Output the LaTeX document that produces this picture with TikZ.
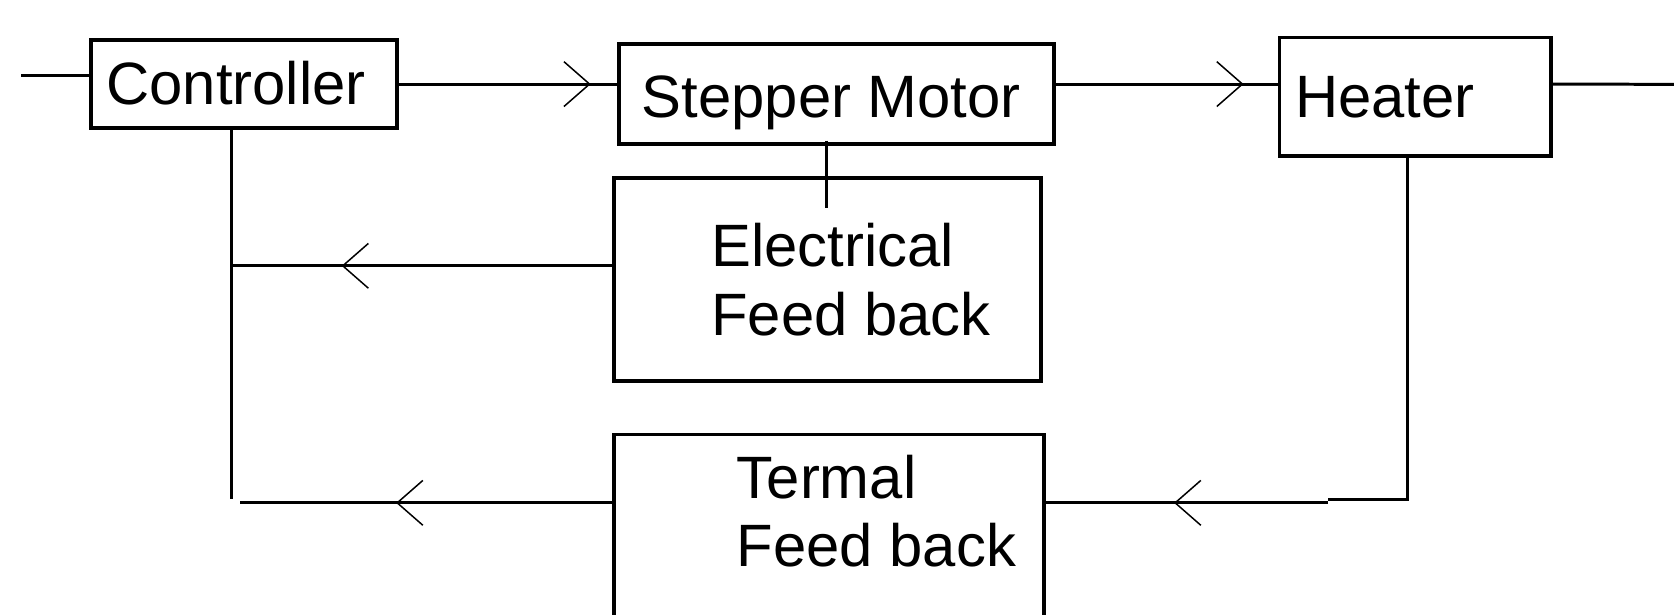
\documentclass[tikz,border=0pt]{standalone}
\usepackage{fontspec}
\setmainfont{Liberation Sans}
\usetikzlibrary{arrows.meta,decorations.markings}

\begin{document}
\begin{tikzpicture}[
  x=1pt, y=-1pt,
  font=\fontsize{56}{64}\selectfont,
  blk/.style ={draw=black, line width=3.4pt, inner sep=0pt},
  lbl/.style ={inner sep=0pt, align=left, anchor=base west},
  wire/.style={draw=black, line width=2.8pt},
  chev/.tip={Straight Barb[length=24pt, width=42pt, line width=1.4pt]},
  midarrow/.style={postaction={decorate, decoration={markings,
      mark=at position #1 with {\arrow{chev}}}}},
]
  \useasboundingbox (0,0) rectangle (1568,576);
  \clip (0,0) rectangle (1568,576);

  % --- bloques ---
  \node[blk, minimum width=287pt, minimum height=82.5pt] (ctrl)  at (228.5,78.75) {};
  \node[blk, minimum width=407pt, minimum height=94pt]   (step)  at (783.5,88) {};
  \node[blk, minimum width=254.5pt, minimum height=111pt] (heat) at (1325.75,90.5) {};
  \node[blk, minimum width=400pt, minimum height=190pt]  (elec)  at (775,262) {};
  \node[blk, minimum width=403pt, minimum height=190pt]  (therm) at (776.5,502) {};

  % --- textos (base = ultima linea) ---
  \node[lbl] (ctrlT)  at (99.5,97.6) {Controller};
  \node[lbl] (stepT)  at (601,110)   {Stepper Motor};
  \node[lbl] (heatT)  at (1213,110)  {Heater};
  \node[lbl] (elecT)  at (666,314)   {Electrical\\Feed back};
  \node[lbl] (thermT) at (690,531)   {Termal\\Feed back};

  % --- puntos de union ---
  \coordinate (in)  at (20,71);
  \coordinate (out) at (1568,79);
  \coordinate (sj)  at (774,195);
  \coordinate (cj)  at (217,467);
  \coordinate (ej)  at (217,249);
  \coordinate (tj)  at (225,471);
  \coordinate (hj)  at (1318.5,468);
  \coordinate (hk)  at (1244,468);

  % --- flechas ---
  \draw[wire] (in) -- (in -| ctrl.west);
  \draw[wire, midarrow=-25pt] (ctrl.east) -- (ctrl.east -| step.west);
  \draw[wire, midarrow=-32pt] (ctrl.east -| step.east) -- (ctrl.east -| heat.west);
  \draw[wire] (ctrl.east -| heat.east) -- (out);
  \draw[wire] ([yshift=5pt]step.south -| sj) -- (sj);
  \draw[wire] (ctrl.south -| cj) -- (cj);
  \draw[wire, midarrow=-103pt] (elec.west |- ej) -- (ej);
  \draw[wire, midarrow=-146pt] (therm.west |- tj) -- (tj);
  \draw[wire] (heat.south -| hj) -- (hj) -- (hk);
  \draw[wire, midarrow=-120pt] (hk |- tj) -- (tj -| therm.east);
\end{tikzpicture}
\end{document}
